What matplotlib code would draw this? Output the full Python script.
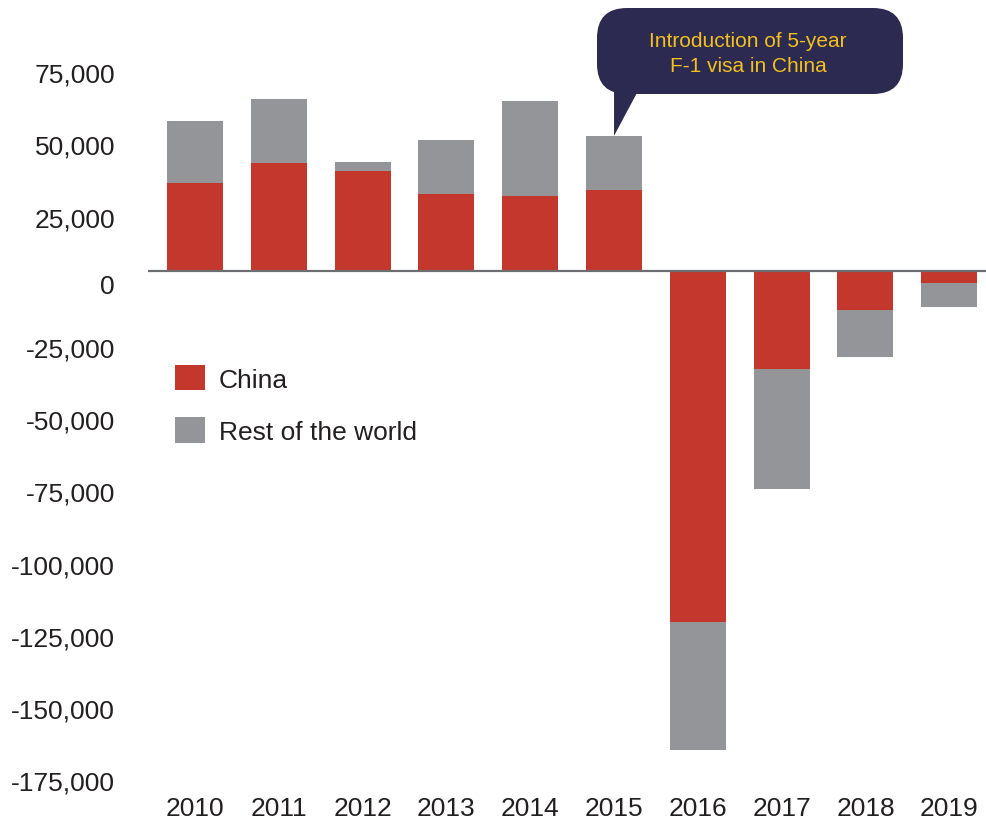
import numpy as np
import matplotlib
matplotlib.use("Agg")
import matplotlib.pyplot as plt
from matplotlib.patches import FancyBboxPatch, Polygon
from matplotlib.transforms import ScaledTranslation, blended_transform_factory

plt.rcParams["font.family"] = ["Liberation Sans", "DejaVu Sans"]

years = ["2010", "2011", "2012", "2013", "2014", "2015", "2016", "2017", "2018", "2019"]
china = [30600, 37500, 34700, 26800, 26100, 28200, -121100, -33700, -13300, -4000]
rest_of_world = [21400, 22100, 3100, 18700, 32900, 18700, -44300, -41500, -16300, -8300]
y_ticks = list(range(-175000, 75001, 25000))
callout_text = "Introduction of 5-year\nF-1 visa in China"

RED = "#c4372c"
GREY = "#949598"
NAVY = "#2c2a51"
YELLOW = "#f4c01e"
TEXT = "#231f20"

fig = plt.figure(figsize=(9.87, 8.2), dpi=100)
ax = fig.add_axes([0.15, 0.0329, 0.85, 0.9522])

x = np.arange(len(years))
ax.bar(x, china, width=0.668, color=RED, label="China")
ax.bar(x, rest_of_world, width=0.668, bottom=china, color=GREY, label="Rest of the world")
ax.axhline(0, color="#6d6e71", lw=1.6, zorder=3)

ax.set_xlim(-0.56, 9.45)
ax.set_ylim(-180000, 90000)
ax.set_xticks(x)
ax.set_xticklabels(years)
ax.set_yticks(y_ticks)
ax.set_yticklabels([])
ax.tick_params(length=0, labelsize=19, labelcolor=TEXT)
ax.tick_params(axis="x", pad=3)
for s in ax.spines.values():
    s.set_visible(False)

# y labels drawn by hand: in the original they sit a little below their values
ylab_trans = blended_transform_factory(ax.transAxes, ax.transData)
for v in y_ticks:
    dy = 17.4 if v > 0 else (12.5 if v == 0 else 2.9)
    off = ScaledTranslation(-0.33, -(dy + 9.5) / 100, fig.dpi_scale_trans)
    ax.text(0, v, f"{v:,.0f}", transform=ylab_trans + off, ha="right", va="baseline",
            fontsize=19, color=TEXT, clip_on=False)

fig.legend(loc="upper left", bbox_to_anchor=(0.1773, 0.554), frameon=False,
           fontsize=19, handlelength=1.12, handleheight=1.12, handletextpad=0.55,
           labelspacing=0.98, borderpad=0, borderaxespad=0, labelcolor=TEXT)

# callout pointing at the 2015 bar
tip = ax.transData.transform((5, china[5] + rest_of_world[5])) / fig.dpi
box = FancyBboxPatch((5.97, 7.25), 3.06, 0.86, boxstyle="round,pad=0,rounding_size=0.3",
                     transform=fig.dpi_scale_trans, facecolor=NAVY, edgecolor="none")
fig.patches.append(box)
tail = Polygon([(tip[0], 7.30), (tip[0] + 0.25, 7.30), (tip[0], tip[1])], closed=True,
               transform=fig.dpi_scale_trans, facecolor=NAVY, edgecolor="none")
fig.patches.append(tail)
fig.text(7.48, 7.66, callout_text, transform=fig.dpi_scale_trans, ha="center", va="center",
         fontsize=15, color=YELLOW, linespacing=1.35)

fig.savefig("out.png", dpi=100)
